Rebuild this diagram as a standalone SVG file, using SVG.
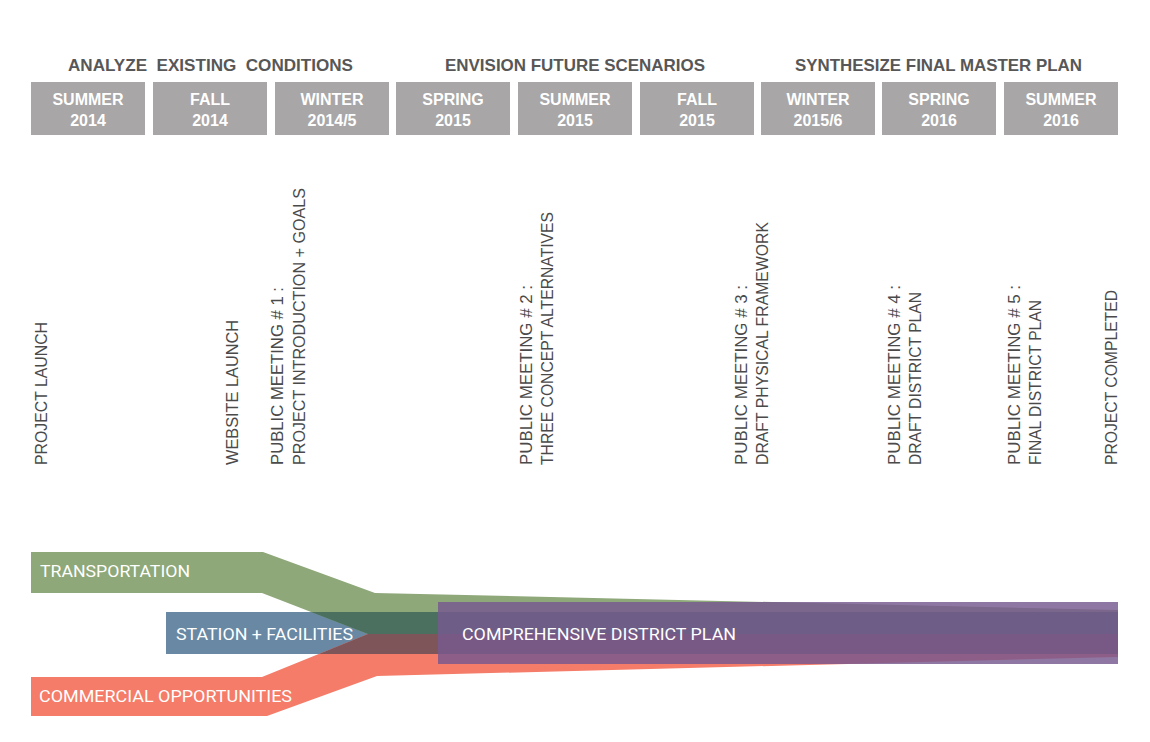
<svg xmlns="http://www.w3.org/2000/svg" width="1150" height="742" viewBox="0 0 1150 742">
<style>
.phase{font-family:"Liberation Sans",Arial,sans-serif;font-weight:bold;font-size:16.5px;fill:#575757;white-space:pre}
.box{fill:#a8a6a7}
.season{font-family:"Liberation Sans",Arial,sans-serif;font-weight:bold;font-size:16px;fill:#ffffff;text-anchor:middle}
.ms{font-family:"Liberation Sans",Arial,sans-serif;font-size:16px;fill:#4a4a4a}
.lbl{font-family:Roboto,"Liberation Sans",Arial,sans-serif;font-weight:400;font-size:16px;fill:#ffffff}
</style>
<rect width="1150" height="742" fill="#ffffff"/>
<g id="phases">
<text class="phase" x="68" y="71" textLength="285" lengthAdjust="spacingAndGlyphs">ANALYZE  EXISTING  CONDITIONS</text>
<text class="phase" x="445" y="71" textLength="260" lengthAdjust="spacingAndGlyphs">ENVISION FUTURE SCENARIOS</text>
<text class="phase" x="795" y="71" textLength="287" lengthAdjust="spacingAndGlyphs">SYNTHESIZE FINAL MASTER PLAN</text>
</g>
<g id="season-summer-2014"><rect class="box" x="31" y="82" width="114" height="53"/><text class="season" x="88" y="105">SUMMER</text><text class="season" x="88" y="126">2014</text></g>
<g id="season-fall-2014"><rect class="box" x="153" y="82" width="114" height="53"/><text class="season" x="210" y="105">FALL</text><text class="season" x="210" y="126">2014</text></g>
<g id="season-winter-2014-5"><rect class="box" x="275" y="82" width="114" height="53"/><text class="season" x="332" y="105">WINTER</text><text class="season" x="332" y="126">2014/5</text></g>
<g id="season-spring-2015"><rect class="box" x="396" y="82" width="114" height="53"/><text class="season" x="453" y="105">SPRING</text><text class="season" x="453" y="126">2015</text></g>
<g id="season-summer-2015"><rect class="box" x="518" y="82" width="114" height="53"/><text class="season" x="575" y="105">SUMMER</text><text class="season" x="575" y="126">2015</text></g>
<g id="season-fall-2015"><rect class="box" x="640" y="82" width="114" height="53"/><text class="season" x="697" y="105">FALL</text><text class="season" x="697" y="126">2015</text></g>
<g id="season-winter-2015-6"><rect class="box" x="761" y="82" width="114" height="53"/><text class="season" x="818" y="105">WINTER</text><text class="season" x="818" y="126">2015/6</text></g>
<g id="season-spring-2016"><rect class="box" x="882" y="82" width="114" height="53"/><text class="season" x="939" y="105">SPRING</text><text class="season" x="939" y="126">2016</text></g>
<g id="season-summer-2016"><rect class="box" x="1004" y="82" width="114" height="53"/><text class="season" x="1061" y="105">SUMMER</text><text class="season" x="1061" y="126">2016</text></g>
<g id="milestones">
<g id="ms-project-launch" transform="translate(47,465) rotate(-90)"><text class="ms" x="0" y="0" textLength="143" lengthAdjust="spacingAndGlyphs">PROJECT LAUNCH</text></g>
<g id="ms-website-launch" transform="translate(238,465) rotate(-90)"><text class="ms" x="0" y="0" textLength="145" lengthAdjust="spacingAndGlyphs">WEBSITE  LAUNCH</text></g>
<g id="ms-meeting-1" transform="translate(283,465) rotate(-90)"><text class="ms" x="0" y="0" textLength="178" lengthAdjust="spacingAndGlyphs">PUBLIC MEETING # 1 :</text><text class="ms" x="0" y="22" textLength="277" lengthAdjust="spacingAndGlyphs">PROJECT INTRODUCTION  + GOALS</text></g>
<g id="ms-meeting-2" transform="translate(532,465) rotate(-90)"><text class="ms" x="0" y="0" textLength="180" lengthAdjust="spacingAndGlyphs">PUBLIC MEETING # 2 :</text><text class="ms" x="0" y="21" textLength="253" lengthAdjust="spacingAndGlyphs">THREE CONCEPT ALTERNATIVES</text></g>
<g id="ms-meeting-3" transform="translate(747,465) rotate(-90)"><text class="ms" x="0" y="0" textLength="180" lengthAdjust="spacingAndGlyphs">PUBLIC MEETING # 3 :</text><text class="ms" x="0" y="21" textLength="243" lengthAdjust="spacingAndGlyphs">DRAFT PHYSICAL FRAMEWORK</text></g>
<g id="ms-meeting-4" transform="translate(900,465) rotate(-90)"><text class="ms" x="0" y="0" textLength="180" lengthAdjust="spacingAndGlyphs">PUBLIC MEETING # 4 :</text><text class="ms" x="0" y="21" textLength="173" lengthAdjust="spacingAndGlyphs">DRAFT DISTRICT PLAN</text></g>
<g id="ms-meeting-5" transform="translate(1020,465) rotate(-90)"><text class="ms" x="0" y="0" textLength="180" lengthAdjust="spacingAndGlyphs">PUBLIC MEETING # 5 :</text><text class="ms" x="0" y="21" textLength="165" lengthAdjust="spacingAndGlyphs">FINAL DISTRICT PLAN</text></g>
<g id="ms-project-completed" transform="translate(1117,465) rotate(-90)"><text class="ms" x="0" y="0" textLength="175" lengthAdjust="spacingAndGlyphs">PROJECT  COMPLETED</text></g>
</g>
<g id="streams">
<g id="stream-station"><rect x="166" y="612" width="952" height="42" fill="#6888a4"/></g>
<g id="stream-transportation"><polygon points="31,552 263,552 375,593 1118,610 1118,634 368,634 262,593 31,593" fill="#8ea879"/><polygon points="311,612 1118,612 1118,634 368,634" fill="#4b7060"/></g>
<g id="stream-commercial"><polygon points="31,677 262,677 368,634 1118,634 1118,657 377,676 267,716 31,716" fill="#f47c69"/><polygon points="368,634 1118,634 1118,654 319,654" fill="#7e5558"/></g>
<g id="stream-comprehensive"><rect x="438" y="602" width="680" height="62" fill="#76598f" fill-opacity="0.82"/></g>
</g>
<g id="labels">
<text class="lbl" x="40" y="577" textLength="150" lengthAdjust="spacingAndGlyphs">TRANSPORTATION</text>
<text class="lbl" x="176" y="640" textLength="177" lengthAdjust="spacingAndGlyphs">STATION + FACILITIES</text>
<text class="lbl" x="39" y="702" textLength="253" lengthAdjust="spacingAndGlyphs">COMMERCIAL OPPORTUNITIES</text>
<text class="lbl" x="462" y="640" textLength="274" lengthAdjust="spacingAndGlyphs">COMPREHENSIVE DISTRICT PLAN</text>
</g>
</svg>
